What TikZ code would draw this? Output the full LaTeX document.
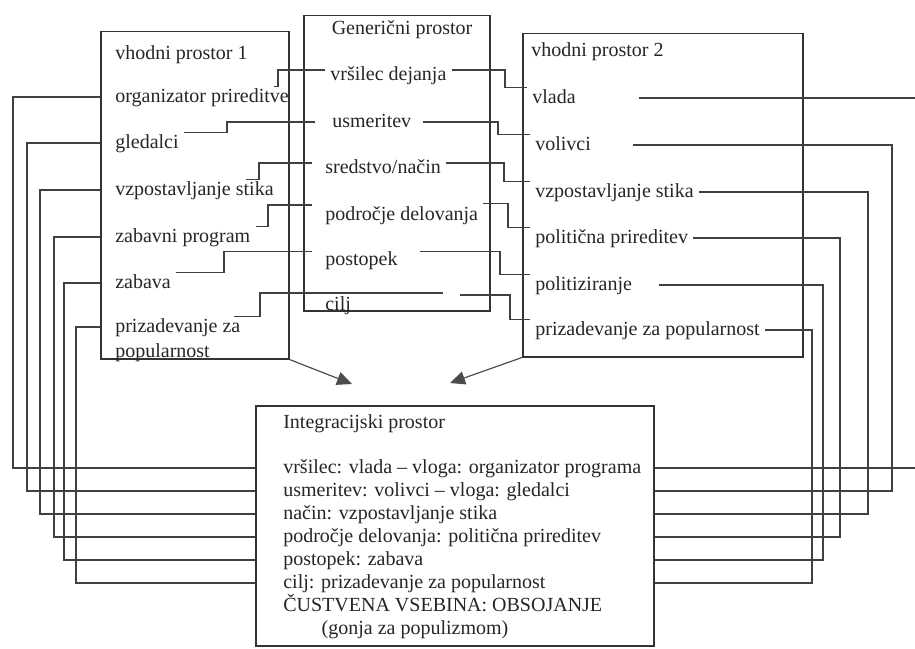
\documentclass[tikz,border=0pt]{standalone}
\usepackage{fontspec}
\setmainfont{Liberation Serif}
\usetikzlibrary{positioning}
\usetikzlibrary{arrows.meta}
\tikzset{
    spacebox/.style = {rectangle, draw=black!80, line width=0.9pt, anchor=north west, inner sep=0pt},
    item/.style = {anchor=west, inner sep=3pt, text height=6pt, text depth=0pt, text=black!85, font=\fontsize{12}{14}\selectfont},
    wire/.style = {draw=black!75, line width=0.7pt},
    arrowin/.style = {-{Triangle[width=8pt,length=9pt]}, draw=black!70, fill=black!70, line width=0.7pt},
}

\begin{document}
\begin{tikzpicture}[x=0.6pt,y=-0.6pt]
\clip (0,0) rectangle (915,648);
\fill[white] (0,0) rectangle (915,648);
% spaces
\node[spacebox, minimum width=112.8pt, minimum height=196.2pt] (lb) at (100,31) {};
\node[spacebox, minimum width=111.6pt, minimum height=177pt] (gb) at (303,15) {};
\node[spacebox, minimum width=168pt, minimum height=193.8pt] (rb) at (522,33) {};
\node[spacebox, minimum width=238.8pt, minimum height=144pt] (ib) at (255,405) {};
%
\node[item] at (110,55) (lt) {vhodni prostor 1};
\node[item] at (110,97) (l1) {organizator prireditve};
\node[item] at (110,143) (l2) {gledalci};
\node[item] at (110,190) (l3) {vzpostavljanje stika};
\node[item] at (110,237) (l4) {zabavni program};
\node[item] at (110,283) (l5) {zabava};
\node[item] at (110,327) (l6) {prizadevanje za};
\node[item, below=15pt of l6.west, anchor=west] (l6b) {popularnost};
%
\node[item, anchor=center] at (402,30) (gt) {Generični prostor};
\node[item] at (325,75) (g1) {vršilec dejanja};
\node[item] at (327,122) (g2) {usmeritev};
\node[item] at (320,168) (g3) {sredstvo/način};
\node[item] at (320,215) (g4) {področje delovanja};
\node[item] at (320,260) (g5) {postopek};
\node[item] at (320,305) (g6) {cilj};
%
\node[item] at (526,52) (rt) {vhodni prostor 2};
\node[item] at (527,98) (r1) {vlada};
\node[item] at (530,145) (r2) {volivci};
\node[item] at (530,192) (r3) {vzpostavljanje stika};
\node[item] at (530,238) (r4) {politična prireditev};
\node[item] at (530,285) (r5) {politiziranje};
\node[item] at (530,330) (r6) {prizadevanje za popularnost};
%
\node[item] at (278,423) (it) {Integracijski prostor};
\node[item] at (278,468) (i1) {vršilec: vlada – vloga: organizator programa};
\node[item, below=13.8pt of i1.west, anchor=west] (i2) {usmeritev: volivci – vloga: gledalci};
\node[item, below=13.8pt of i2.west, anchor=west] (i3) {način: vzpostavljanje stika};
\node[item, below=13.8pt of i3.west, anchor=west] (i4) {področje delovanja: politična prireditev};
\node[item, below=13.8pt of i4.west, anchor=west] (i5) {postopek: zabava};
\node[item, below=13.8pt of i5.west, anchor=west] (i6) {cilj: prizadevanje za popularnost};
\node[item, below=13.8pt of i6.west, anchor=west] (i7) {ČUSTVENA VSEBINA: OBSOJANJE};
\node[item, below=13.8pt of i7.west, anchor=west, xshift=23pt] (i8) {(gonja za populizmom)};
%
% columns
\coordinate (s1) at (278,0); \coordinate (s2) at (227,0); \coordinate (s3) at (259,0);
\coordinate (s4) at (268,0); \coordinate (s5) at (224,0); \coordinate (s6) at (260,0);
\coordinate (t1) at (505,0); \coordinate (t2) at (498,0); \coordinate (t3) at (504,0);
\coordinate (t4) at (508,0); \coordinate (t5) at (500,0); \coordinate (t6) at (510,0);
\coordinate (u1) at (13,0); \coordinate (u2) at (27,0); \coordinate (u3) at (40,0);
\coordinate (u4) at (54,0); \coordinate (u5) at (64,0); \coordinate (u6) at (76,0);
\coordinate (v1) at (930,0); \coordinate (v2) at (892,0); \coordinate (v3) at (868,0);
\coordinate (v4) at (840,0); \coordinate (v5) at (823,0); \coordinate (v6) at (812,0);
\coordinate (c6l) at (443,293); \coordinate (c6r) at (460,295);
\coordinate (a1) at (352,384); \coordinate (a2) at (450,383);
%
% generic -> input 1
\draw[wire] ([yshift=3pt]g1.west) -| (s1 |- l1.north east) -- ([xshift=-12pt]l1.north east);
\draw[wire] ([xshift=-7pt]g2.west) -| (s2 |- l2.north east) -- (l2.north east);
\draw[wire] ([xshift=-5pt,yshift=3pt]g3.west) -| (s3 |- l3.north east) -- ([xshift=-20pt]l3.north east);
\draw[wire] ([xshift=-5pt,yshift=6pt]g4.west) -| (s4 |- l4.north east) -- (l4.north east);
\draw[wire] ([xshift=-5pt,yshift=5pt]g5.west) -| (s5 |- l5.north east) -- (l5.north east);
\draw[wire] (c6l) -| (s6 |- l6.north east) -- ([xshift=-7pt]l6.north east);
% generic -> input 2
\draw[wire] ([yshift=3pt]g1.east) -| (t1 |- r1.north west) -- (r1.north west);
\draw[wire] ([xshift=4pt]g2.east) -| (t2 |- r2.north west) -- (r2.north west);
\draw[wire] ([yshift=3pt]g3.east) -| (t3 |- r3.north west) -- (r3.north west);
\draw[wire] ([yshift=7pt]g4.east) -| (t4 |- r4.north west) -- (r4.north west);
\draw[wire] ([xshift=10pt,yshift=5pt]g5.east) -| (t5 |- r5.north west) -- (r5.north west);
\draw[wire] (c6r) -| (t6 |- r6.north west) -- (r6.north west);
% input 1 -> blend
\draw[wire] (lb.west |- l1) -| (u1 |- i1) -- (ib.west |- i1);
\draw[wire] (lb.west |- l2) -| (u2 |- i2) -- (ib.west |- i2);
\draw[wire] (lb.west |- l3) -| (u3 |- i3) -- (ib.west |- i3);
\draw[wire] (lb.west |- l4) -| (u4 |- i4) -- (ib.west |- i4);
\draw[wire] (lb.west |- l5) -| (u5 |- i5) -- (ib.west |- i5);
\draw[wire] (lb.west |- l6) -| (u6 |- i6) -- (ib.west |- i6);
% input 2 -> blend
\draw[wire] ([xshift=35pt]r1.east) -| (v1 |- i1) -- (ib.east |- i1);
\draw[wire] ([xshift=22pt]r2.east) -| (v2 |- i2) -- (ib.east |- i2);
\draw[wire] (r3.east) -| (v3 |- i3) -- (ib.east |- i3);
\draw[wire] (r4.east) -| (v4 |- i4) -- (ib.east |- i4);
\draw[wire] ([xshift=13pt]r5.east) -| (v5 |- i5) -- (ib.east |- i5);
\draw[wire] (r6.east) -| (v6 |- i6) -- (ib.east |- i6);
%
\draw[arrowin] (lb.south east) -- (a1);
\draw[arrowin] (rb.south west) -- (a2);

\end{tikzpicture}
\end{document}
